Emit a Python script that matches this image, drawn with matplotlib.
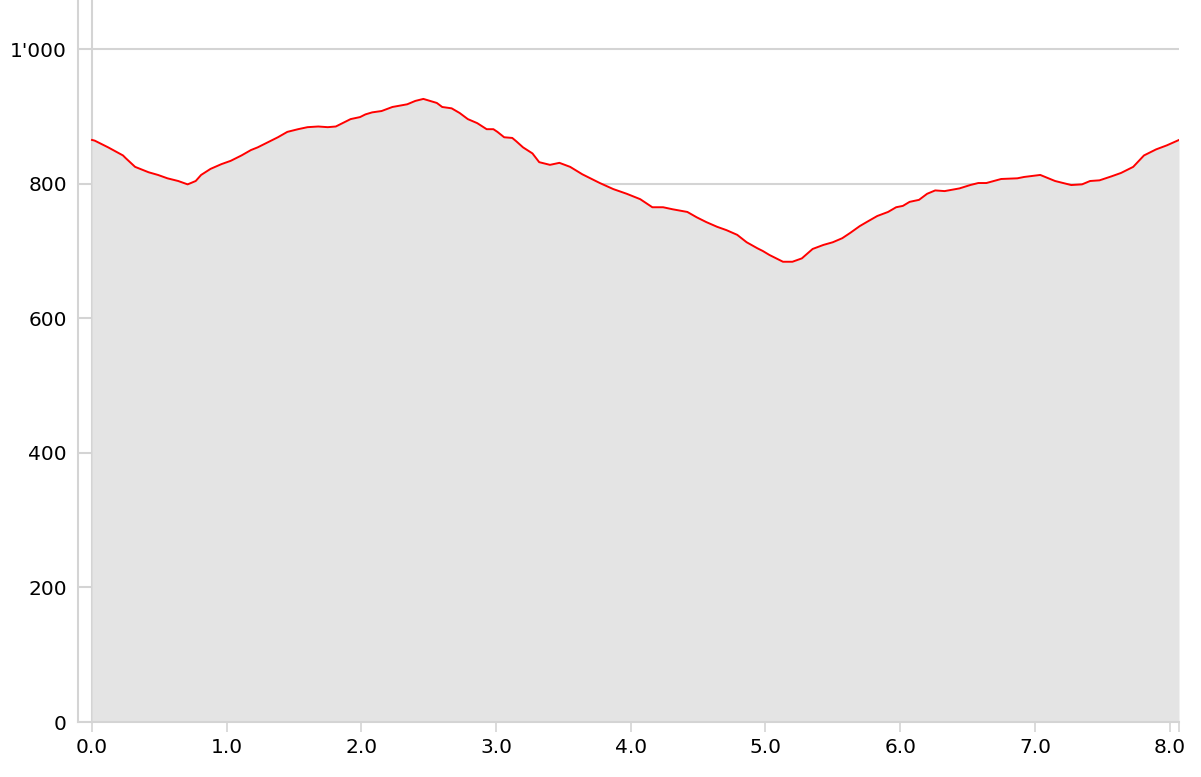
import matplotlib
matplotlib.use("Agg")
from matplotlib import pyplot as plt
from matplotlib.ticker import FuncFormatter

# Distance (km) and elevation (m).
dist = [0.00, 0.02, 0.12, 0.23, 0.25, 0.32, 0.42, 0.49, 0.56, 0.64,
        0.71, 0.77, 0.81, 0.88, 0.96, 1.03, 1.11, 1.18, 1.23, 1.31,
        1.38, 1.45, 1.53, 1.60, 1.68, 1.75, 1.81, 1.88, 1.92, 1.99,
        2.03, 2.08, 2.15, 2.23, 2.34, 2.40, 2.46, 2.51, 2.56, 2.60,
        2.67, 2.73, 2.79, 2.86, 2.93, 2.98, 3.01, 3.06, 3.12, 3.15,
        3.20, 3.27, 3.32, 3.40, 3.47, 3.55, 3.64, 3.70, 3.77, 3.87,
        3.97, 4.07, 4.16, 4.24, 4.31, 4.42, 4.49, 4.56, 4.64, 4.71,
        4.79, 4.86, 4.94, 4.98, 5.03, 5.08, 5.13, 5.20, 5.27, 5.35,
        5.43, 5.50, 5.57, 5.63, 5.70, 5.76, 5.83, 5.91, 5.97, 6.02,
        6.07, 6.14, 6.20, 6.26, 6.33, 6.44, 6.52, 6.58, 6.64, 6.75,
        6.87, 6.92, 7.04, 7.15, 7.27, 7.35, 7.41, 7.48, 7.57, 7.64,
        7.73, 7.81, 7.90, 7.98, 8.07]
elev = [865, 864, 854, 842, 838, 825, 817, 813, 808, 804,
        799, 804, 813, 822, 829, 834, 842, 850, 854, 862,
        869, 877, 881, 884, 885, 884, 885, 892, 896, 899,
        903, 906, 908, 914, 918, 923, 926, 923, 920, 914,
        912, 905, 896, 890, 881, 881, 877, 869, 868, 863,
        854, 845, 832, 828, 831, 825, 814, 808, 801, 792,
        785, 777, 765, 765, 762, 758, 750, 743, 736, 731,
        724, 713, 704, 700, 694, 689, 684, 684, 689, 703,
        709, 713, 719, 727, 737, 744, 752, 758, 765, 767,
        773, 776, 785, 790, 789, 793, 798, 801, 801, 807,
        808, 810, 813, 804, 798, 799, 804, 805, 811, 816,
        825, 842, 851, 857, 865]

x_ticks = [0, 1, 2, 3, 4, 5, 6, 7, 8]
y_ticks = [0, 200, 400, 600, 800, 1000]

grey = '#d4d4d4'

fig = plt.figure(figsize=(12.01, 7.77), dpi=100)
ax = fig.add_axes([78 / 1201, 55 / 777, 1101 / 1201, 722 / 777])

ax.fill_between(dist, elev, 0, color='#e4e4e4', lw=0, zorder=2)
ax.plot(dist, elev, color='red', lw=1.4, zorder=3)
ax.axvline(0, color=grey, lw=1.5, zorder=1, clip_on=False)

ax.set_xlim(-0.104, dist[-1])
ax.set_ylim(0, 1073)

ax.set_xticks(x_ticks + [dist[-1]])
ax.set_xticklabels(['%.1f' % t for t in x_ticks] + [''])
ax.set_yticks(y_ticks)
ax.yaxis.set_major_formatter(FuncFormatter(lambda v, p: format(int(v), ',').replace(',', "'")))

ax.grid(axis='y', color=grey, lw=1.5, zorder=0)
ax.set_axisbelow(True)
for side in ['top', 'right']:
    ax.spines[side].set_visible(False)
for side in ['left', 'bottom']:
    ax.spines[side].set_color(grey)
    ax.spines[side].set_linewidth(1.5)

ax.tick_params(axis='x', length=7.5, width=1.2, color=grey, labelsize=14.5, pad=4)
ax.tick_params(axis='y', length=0, labelsize=14.5, pad=8)

fig.savefig('out.png', dpi=100)
